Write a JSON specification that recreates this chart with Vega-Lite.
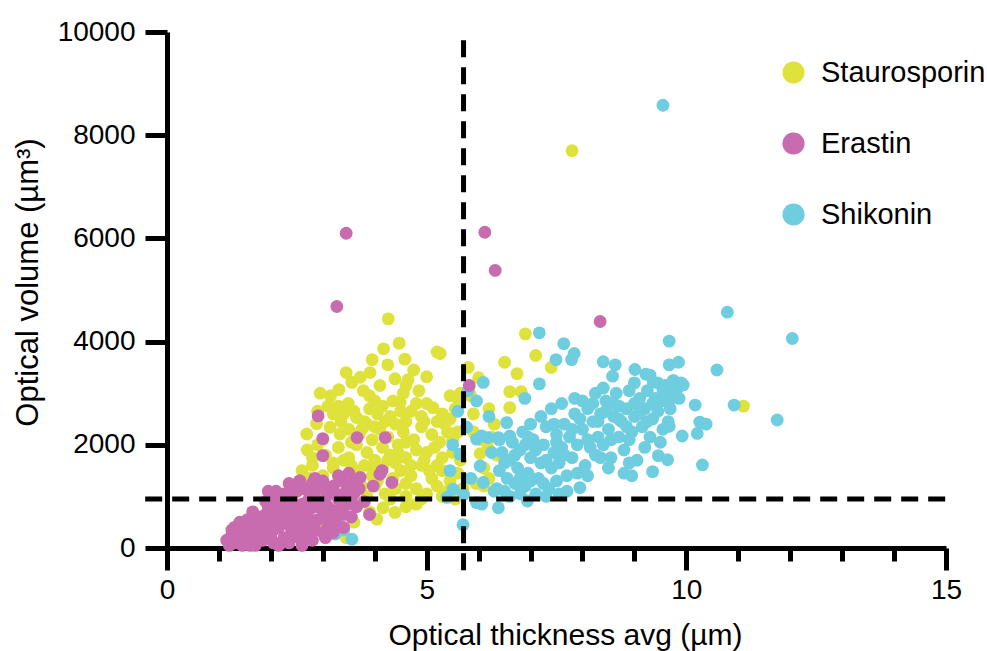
{
  "$schema": "https://vega.github.io/schema/vega-lite/v6.json",
  "width": 779,
  "height": 516,
  "autosize": {"type": "none"},
  "padding": {"left": 167, "top": 32, "right": 41, "bottom": 103},
  "config": {
    "view": {"stroke": null},
    "font": "Liberation Sans",
    "axis": {"grid": false, "domainColor": "black", "domainWidth": 5, "tickColor": "black", "tickWidth": 5, "labelColor": "black", "titleColor": "black", "labelFont": "Liberation Sans", "titleFont": "Liberation Sans", "labelFontSize": 28, "titleFontSize": 30, "titleFontWeight": "normal"},
    "legend": {"labelFont": "Liberation Sans", "labelFontSize": 29, "labelColor": "black", "labelLimit": 400, "symbolSize": 490, "symbolType": "circle", "symbolStrokeWidth": 0, "symbolOpacity": 1, "rowPadding": 41, "labelOffset": 13, "padding": 0}
  },
  "layer": [
    {
      "data": {"values": [
        {"treatment":"Staurosporin","x":4.26,"y":4440},{"treatment":"Staurosporin","x":4.47,"y":3970},{"treatment":"Staurosporin","x":4.17,"y":3860},{"treatment":"Staurosporin","x":4.58,"y":3660},{"treatment":"Staurosporin","x":5.26,"y":3770},{"treatment":"Staurosporin","x":3.91,"y":3400},{"treatment":"Staurosporin","x":3.72,"y":3310},{"treatment":"Staurosporin","x":3.56,"y":3210},{"treatment":"Staurosporin","x":4.39,"y":3280},{"treatment":"Staurosporin","x":4.64,"y":3260},{"treatment":"Staurosporin","x":5.0,"y":3320},{"treatment":"Staurosporin","x":2.95,"y":3000},{"treatment":"Staurosporin","x":3.31,"y":3070},{"treatment":"Staurosporin","x":3.78,"y":3050},{"treatment":"Staurosporin","x":4.1,"y":3150},{"treatment":"Staurosporin","x":4.85,"y":3050},{"treatment":"Staurosporin","x":5.45,"y":2950},{"treatment":"Staurosporin","x":5.6,"y":2900},{"treatment":"Staurosporin","x":4.25,"y":3550},{"treatment":"Staurosporin","x":3.95,"y":3650},{"treatment":"Staurosporin","x":3.45,"y":3400},{"treatment":"Staurosporin","x":4.75,"y":3450},{"treatment":"Staurosporin","x":5.65,"y":3000},{"treatment":"Staurosporin","x":3.15,"y":2950},{"treatment":"Staurosporin","x":4.55,"y":3000},
        {"treatment":"Staurosporin","x":3.49,"y":2800},{"treatment":"Staurosporin","x":4.49,"y":2820},{"treatment":"Staurosporin","x":5.12,"y":2720},{"treatment":"Staurosporin","x":3.2,"y":2600},{"treatment":"Staurosporin","x":3.65,"y":2530},{"treatment":"Staurosporin","x":3.9,"y":2700},{"treatment":"Staurosporin","x":4.05,"y":2600},{"treatment":"Staurosporin","x":4.3,"y":2550},{"treatment":"Staurosporin","x":4.7,"y":2650},{"treatment":"Staurosporin","x":4.9,"y":2550},{"treatment":"Staurosporin","x":5.3,"y":2600},{"treatment":"Staurosporin","x":5.55,"y":2700},{"treatment":"Staurosporin","x":3.1,"y":2750},{"treatment":"Staurosporin","x":5.0,"y":2800},{"treatment":"Staurosporin","x":4.0,"y":2850},{"treatment":"Staurosporin","x":3.35,"y":2450},{"treatment":"Staurosporin","x":3.8,"y":2450},{"treatment":"Staurosporin","x":4.15,"y":2750},{"treatment":"Staurosporin","x":4.6,"y":2450},{"treatment":"Staurosporin","x":5.2,"y":2450},{"treatment":"Staurosporin","x":5.45,"y":2500},{"treatment":"Staurosporin","x":2.9,"y":2650},{"treatment":"Staurosporin","x":4.8,"y":2800},{"treatment":"Staurosporin","x":3.6,"y":2650},{"treatment":"Staurosporin","x":4.35,"y":2850},
        {"treatment":"Staurosporin","x":2.88,"y":2410},{"treatment":"Staurosporin","x":3.14,"y":2340},{"treatment":"Staurosporin","x":3.33,"y":2210},{"treatment":"Staurosporin","x":2.69,"y":2210},{"treatment":"Staurosporin","x":3.5,"y":2300},{"treatment":"Staurosporin","x":3.7,"y":2200},{"treatment":"Staurosporin","x":3.85,"y":2400},{"treatment":"Staurosporin","x":4.1,"y":2300},{"treatment":"Staurosporin","x":4.25,"y":2150},{"treatment":"Staurosporin","x":4.4,"y":2400},{"treatment":"Staurosporin","x":4.55,"y":2250},{"treatment":"Staurosporin","x":4.75,"y":2100},{"treatment":"Staurosporin","x":4.9,"y":2350},{"treatment":"Staurosporin","x":5.1,"y":2200},{"treatment":"Staurosporin","x":5.35,"y":2400},{"treatment":"Staurosporin","x":5.6,"y":2250},{"treatment":"Staurosporin","x":3.95,"y":2100},{"treatment":"Staurosporin","x":4.6,"y":2050},{"treatment":"Staurosporin","x":3.0,"y":2100},{"treatment":"Staurosporin","x":5.25,"y":2050},{"treatment":"Staurosporin","x":5.5,"y":2100},{"treatment":"Staurosporin","x":4.0,"y":2350},{"treatment":"Staurosporin","x":3.55,"y":2050},
        {"treatment":"Staurosporin","x":2.7,"y":1900},{"treatment":"Staurosporin","x":2.9,"y":2000},{"treatment":"Staurosporin","x":3.05,"y":1800},{"treatment":"Staurosporin","x":3.3,"y":1950},{"treatment":"Staurosporin","x":3.5,"y":1750},{"treatment":"Staurosporin","x":3.65,"y":2000},{"treatment":"Staurosporin","x":3.85,"y":1850},{"treatment":"Staurosporin","x":4.0,"y":1700},{"treatment":"Staurosporin","x":4.15,"y":1950},{"treatment":"Staurosporin","x":4.3,"y":1800},{"treatment":"Staurosporin","x":4.45,"y":2000},{"treatment":"Staurosporin","x":4.6,"y":1750},{"treatment":"Staurosporin","x":4.8,"y":1900},{"treatment":"Staurosporin","x":4.95,"y":1700},{"treatment":"Staurosporin","x":5.15,"y":1950},{"treatment":"Staurosporin","x":5.3,"y":1750},{"treatment":"Staurosporin","x":5.5,"y":1850},{"treatment":"Staurosporin","x":5.65,"y":1700},{"treatment":"Staurosporin","x":4.4,"y":1650},{"treatment":"Staurosporin","x":3.4,"y":1700},{"treatment":"Staurosporin","x":2.8,"y":1750},{"treatment":"Staurosporin","x":3.2,"y":1650},{"treatment":"Staurosporin","x":5.0,"y":1850},
        {"treatment":"Staurosporin","x":2.6,"y":1500},{"treatment":"Staurosporin","x":2.8,"y":1600},{"treatment":"Staurosporin","x":3.0,"y":1400},{"treatment":"Staurosporin","x":3.2,"y":1550},{"treatment":"Staurosporin","x":3.45,"y":1350},{"treatment":"Staurosporin","x":3.6,"y":1500},{"treatment":"Staurosporin","x":3.8,"y":1600},{"treatment":"Staurosporin","x":3.95,"y":1400},{"treatment":"Staurosporin","x":4.15,"y":1550},{"treatment":"Staurosporin","x":4.35,"y":1350},{"treatment":"Staurosporin","x":4.5,"y":1500},{"treatment":"Staurosporin","x":4.7,"y":1400},{"treatment":"Staurosporin","x":4.9,"y":1600},{"treatment":"Staurosporin","x":5.1,"y":1350},{"treatment":"Staurosporin","x":5.3,"y":1500},{"treatment":"Staurosporin","x":5.45,"y":1300},{"treatment":"Staurosporin","x":5.6,"y":1450},{"treatment":"Staurosporin","x":4.05,"y":1300},{"treatment":"Staurosporin","x":3.7,"y":1250},{"treatment":"Staurosporin","x":3.3,"y":1300},{"treatment":"Staurosporin","x":4.6,"y":1250},{"treatment":"Staurosporin","x":5.2,"y":1600},{"treatment":"Staurosporin","x":2.75,"y":1350},
        {"treatment":"Staurosporin","x":2.5,"y":1100},{"treatment":"Staurosporin","x":2.7,"y":1200},{"treatment":"Staurosporin","x":2.95,"y":1000},{"treatment":"Staurosporin","x":3.2,"y":1150},{"treatment":"Staurosporin","x":3.4,"y":950},{"treatment":"Staurosporin","x":3.6,"y":1100},{"treatment":"Staurosporin","x":3.85,"y":1000},{"treatment":"Staurosporin","x":4.0,"y":1200},{"treatment":"Staurosporin","x":4.2,"y":1050},{"treatment":"Staurosporin","x":4.4,"y":1150},{"treatment":"Staurosporin","x":4.6,"y":1000},{"treatment":"Staurosporin","x":4.8,"y":1150},{"treatment":"Staurosporin","x":5.0,"y":1050},{"treatment":"Staurosporin","x":5.2,"y":1200},{"treatment":"Staurosporin","x":5.4,"y":1100},{"treatment":"Staurosporin","x":5.55,"y":950},{"treatment":"Staurosporin","x":5.7,"y":1150},{"treatment":"Staurosporin","x":4.3,"y":950},{"treatment":"Staurosporin","x":4.9,"y":950},{"treatment":"Staurosporin","x":3.75,"y":1200},{"treatment":"Staurosporin","x":5.3,"y":1000},
        {"treatment":"Staurosporin","x":3.4,"y":2600},{"treatment":"Staurosporin","x":3.75,"y":2300},{"treatment":"Staurosporin","x":4.2,"y":2450},{"treatment":"Staurosporin","x":4.5,"y":2650},{"treatment":"Staurosporin","x":4.95,"y":2450},{"treatment":"Staurosporin","x":5.4,"y":2250},{"treatment":"Staurosporin","x":3.95,"y":1550},{"treatment":"Staurosporin","x":4.25,"y":1700},{"treatment":"Staurosporin","x":4.7,"y":1600},{"treatment":"Staurosporin","x":5.05,"y":1500},{"treatment":"Staurosporin","x":3.55,"y":1600},{"treatment":"Staurosporin","x":4.45,"y":1850},{"treatment":"Staurosporin","x":3.9,"y":2950},{"treatment":"Staurosporin","x":4.6,"y":3150},{"treatment":"Staurosporin","x":3.3,"y":2750},
        {"treatment":"Staurosporin","x":3.9,"y":700},{"treatment":"Staurosporin","x":4.04,"y":560},{"treatment":"Staurosporin","x":4.39,"y":690},{"treatment":"Staurosporin","x":4.16,"y":780},{"treatment":"Staurosporin","x":3.6,"y":500},{"treatment":"Staurosporin","x":4.6,"y":800},{"treatment":"Staurosporin","x":3.3,"y":650},{"treatment":"Staurosporin","x":2.9,"y":400},{"treatment":"Staurosporin","x":3.1,"y":250},{"treatment":"Staurosporin","x":3.45,"y":200},{"treatment":"Staurosporin","x":4.8,"y":850},
        {"treatment":"Staurosporin","x":5.9,"y":2600},{"treatment":"Staurosporin","x":6.03,"y":1830},{"treatment":"Staurosporin","x":6.18,"y":1940},{"treatment":"Staurosporin","x":6.1,"y":1550},{"treatment":"Staurosporin","x":5.95,"y":1250},{"treatment":"Staurosporin","x":6.1,"y":1200},{"treatment":"Staurosporin","x":6.25,"y":2150},{"treatment":"Staurosporin","x":5.85,"y":2950},{"treatment":"Staurosporin","x":6.0,"y":3300},{"treatment":"Staurosporin","x":5.8,"y":3500},{"treatment":"Staurosporin","x":6.2,"y":2700},{"treatment":"Staurosporin","x":6.3,"y":2400},{"treatment":"Staurosporin","x":6.05,"y":2100},{"treatment":"Staurosporin","x":5.9,"y":2250},{"treatment":"Staurosporin","x":6.35,"y":1800},{"treatment":"Staurosporin","x":6.2,"y":1350},
        {"treatment":"Staurosporin","x":7.8,"y":7700},{"treatment":"Staurosporin","x":11.1,"y":2750},{"treatment":"Staurosporin","x":6.9,"y":4150},{"treatment":"Staurosporin","x":7.1,"y":3730},{"treatment":"Staurosporin","x":6.74,"y":3380},{"treatment":"Staurosporin","x":6.6,"y":3030},{"treatment":"Staurosporin","x":6.82,"y":3030},{"treatment":"Staurosporin","x":6.6,"y":2720},{"treatment":"Staurosporin","x":7.4,"y":3500},{"treatment":"Staurosporin","x":6.5,"y":3600},{"treatment":"Staurosporin","x":5.2,"y":3800},

        {"treatment":"Shikonin","x":6.35,"y":1150},{"treatment":"Shikonin","x":6.4,"y":1500},{"treatment":"Shikonin","x":6.45,"y":1850},{"treatment":"Shikonin","x":6.5,"y":1100},{"treatment":"Shikonin","x":6.55,"y":1350},{"treatment":"Shikonin","x":6.6,"y":1700},{"treatment":"Shikonin","x":6.65,"y":2050},{"treatment":"Shikonin","x":6.7,"y":1250},{"treatment":"Shikonin","x":6.4,"y":2100},{"treatment":"Shikonin","x":6.6,"y":1000},
        {"treatment":"Shikonin","x":6.75,"y":1550},{"treatment":"Shikonin","x":6.8,"y":1900},{"treatment":"Shikonin","x":6.85,"y":2250},{"treatment":"Shikonin","x":6.9,"y":1200},{"treatment":"Shikonin","x":6.95,"y":1450},{"treatment":"Shikonin","x":7.0,"y":1750},{"treatment":"Shikonin","x":7.05,"y":2100},{"treatment":"Shikonin","x":7.1,"y":1050},{"treatment":"Shikonin","x":6.8,"y":1050},{"treatment":"Shikonin","x":7.0,"y":2400},{"treatment":"Shikonin","x":6.9,"y":2000},
        {"treatment":"Shikonin","x":7.15,"y":1350},{"treatment":"Shikonin","x":7.2,"y":1650},{"treatment":"Shikonin","x":7.25,"y":2000},{"treatment":"Shikonin","x":7.3,"y":2350},{"treatment":"Shikonin","x":7.35,"y":1150},{"treatment":"Shikonin","x":7.4,"y":1550},{"treatment":"Shikonin","x":7.45,"y":1850},{"treatment":"Shikonin","x":7.5,"y":2200},{"treatment":"Shikonin","x":7.2,"y":2550},{"treatment":"Shikonin","x":7.4,"y":2700},{"treatment":"Shikonin","x":7.3,"y":1000},{"treatment":"Shikonin","x":7.5,"y":1300},
        {"treatment":"Shikonin","x":7.55,"y":1650},{"treatment":"Shikonin","x":7.6,"y":1950},{"treatment":"Shikonin","x":7.65,"y":2400},{"treatment":"Shikonin","x":7.7,"y":1400},{"treatment":"Shikonin","x":7.75,"y":2150},{"treatment":"Shikonin","x":7.8,"y":1750},{"treatment":"Shikonin","x":7.85,"y":2600},{"treatment":"Shikonin","x":7.9,"y":2000},{"treatment":"Shikonin","x":7.6,"y":2800},{"treatment":"Shikonin","x":7.95,"y":1170},{"treatment":"Shikonin","x":7.7,"y":1100},{"treatment":"Shikonin","x":7.85,"y":2900},{"treatment":"Shikonin","x":7.55,"y":1050},
        {"treatment":"Shikonin","x":8.0,"y":2300},{"treatment":"Shikonin","x":8.05,"y":1600},{"treatment":"Shikonin","x":8.1,"y":2700},{"treatment":"Shikonin","x":8.15,"y":1950},{"treatment":"Shikonin","x":8.2,"y":2450},{"treatment":"Shikonin","x":8.25,"y":3000},{"treatment":"Shikonin","x":8.3,"y":2150},{"treatment":"Shikonin","x":8.1,"y":1400},{"treatment":"Shikonin","x":8.25,"y":1800},{"treatment":"Shikonin","x":8.0,"y":2850},
        {"treatment":"Shikonin","x":8.35,"y":2600},{"treatment":"Shikonin","x":8.4,"y":2000},{"treatment":"Shikonin","x":8.45,"y":2850},{"treatment":"Shikonin","x":8.5,"y":2300},{"treatment":"Shikonin","x":8.55,"y":1750},{"treatment":"Shikonin","x":8.6,"y":2550},{"treatment":"Shikonin","x":8.65,"y":3000},{"treatment":"Shikonin","x":8.7,"y":2150},{"treatment":"Shikonin","x":8.5,"y":1550},{"treatment":"Shikonin","x":8.4,"y":3100},{"treatment":"Shikonin","x":8.7,"y":2750},
        {"treatment":"Shikonin","x":8.75,"y":2450},{"treatment":"Shikonin","x":8.8,"y":1900},{"treatment":"Shikonin","x":8.85,"y":2700},{"treatment":"Shikonin","x":8.9,"y":3050},{"treatment":"Shikonin","x":8.95,"y":2250},{"treatment":"Shikonin","x":9.0,"y":2550},{"treatment":"Shikonin","x":9.05,"y":1700},{"treatment":"Shikonin","x":9.1,"y":2900},{"treatment":"Shikonin","x":8.8,"y":1450},{"treatment":"Shikonin","x":8.9,"y":2100},{"treatment":"Shikonin","x":9.0,"y":3200},
        {"treatment":"Shikonin","x":9.15,"y":2350},{"treatment":"Shikonin","x":9.2,"y":2700},{"treatment":"Shikonin","x":9.25,"y":3050},{"treatment":"Shikonin","x":9.3,"y":2150},{"treatment":"Shikonin","x":9.35,"y":2500},{"treatment":"Shikonin","x":9.4,"y":2900},{"treatment":"Shikonin","x":9.45,"y":3200},{"treatment":"Shikonin","x":9.5,"y":2050},{"treatment":"Shikonin","x":9.2,"y":1950},{"treatment":"Shikonin","x":9.3,"y":3350},{"treatment":"Shikonin","x":9.45,"y":2650},
        {"treatment":"Shikonin","x":9.55,"y":2850},{"treatment":"Shikonin","x":9.6,"y":3150},{"treatment":"Shikonin","x":9.7,"y":2900},{"treatment":"Shikonin","x":9.75,"y":3250},{"treatment":"Shikonin","x":9.8,"y":3050},{"treatment":"Shikonin","x":9.65,"y":2450},{"treatment":"Shikonin","x":9.9,"y":3200},{"treatment":"Shikonin","x":9.55,"y":2300},
        {"treatment":"Shikonin","x":6.5,"y":1650},{"treatment":"Shikonin","x":6.7,"y":1800},{"treatment":"Shikonin","x":6.95,"y":2150},{"treatment":"Shikonin","x":7.1,"y":1900},{"treatment":"Shikonin","x":7.3,"y":1700},{"treatment":"Shikonin","x":7.45,"y":2400},{"treatment":"Shikonin","x":7.65,"y":1800},{"treatment":"Shikonin","x":7.8,"y":2300},{"treatment":"Shikonin","x":7.95,"y":2500},{"treatment":"Shikonin","x":8.1,"y":2100},{"treatment":"Shikonin","x":8.3,"y":2450},{"treatment":"Shikonin","x":8.45,"y":2650},{"treatment":"Shikonin","x":8.55,"y":2100},{"treatment":"Shikonin","x":8.7,"y":2500},{"treatment":"Shikonin","x":8.85,"y":2350},{"treatment":"Shikonin","x":9.0,"y":2800},{"treatment":"Shikonin","x":9.1,"y":2600},{"treatment":"Shikonin","x":9.25,"y":2450},{"treatment":"Shikonin","x":9.35,"y":2800},{"treatment":"Shikonin","x":9.55,"y":3050},{"treatment":"Shikonin","x":9.7,"y":3100},{"treatment":"Shikonin","x":8.6,"y":2800},{"treatment":"Shikonin","x":8.2,"y":2800},{"treatment":"Shikonin","x":7.5,"y":2050},{"treatment":"Shikonin","x":7.0,"y":1300},{"treatment":"Shikonin","x":6.8,"y":1350},{"treatment":"Shikonin","x":7.25,"y":1250},{"treatment":"Shikonin","x":7.9,"y":1450},{"treatment":"Shikonin","x":8.35,"y":1750},{"treatment":"Shikonin","x":8.9,"y":1650},
        {"treatment":"Shikonin","x":5.39,"y":980},{"treatment":"Shikonin","x":5.51,"y":1140},{"treatment":"Shikonin","x":5.64,"y":1820},{"treatment":"Shikonin","x":5.71,"y":1040},{"treatment":"Shikonin","x":5.77,"y":2340},{"treatment":"Shikonin","x":5.96,"y":2850},{"treatment":"Shikonin","x":5.96,"y":2110},{"treatment":"Shikonin","x":6.18,"y":2140},{"treatment":"Shikonin","x":6.03,"y":1590},{"treatment":"Shikonin","x":6.09,"y":1270},{"treatment":"Shikonin","x":5.96,"y":880},{"treatment":"Shikonin","x":6.06,"y":850},{"treatment":"Shikonin","x":6.38,"y":780},{"treatment":"Shikonin","x":5.7,"y":450},{"treatment":"Shikonin","x":6.09,"y":3210},{"treatment":"Shikonin","x":6.06,"y":2170},{"treatment":"Shikonin","x":6.54,"y":2430},{"treatment":"Shikonin","x":6.6,"y":2170},{"treatment":"Shikonin","x":6.38,"y":2140},{"treatment":"Shikonin","x":5.45,"y":1500},{"treatment":"Shikonin","x":5.85,"y":1350},{"treatment":"Shikonin","x":6.25,"y":1850},{"treatment":"Shikonin","x":6.2,"y":2550},{"treatment":"Shikonin","x":5.6,"y":2650},{"treatment":"Shikonin","x":6.3,"y":1100},{"treatment":"Shikonin","x":5.8,"y":3050},{"treatment":"Shikonin","x":5.5,"y":2000},
        {"treatment":"Shikonin","x":3.56,"y":170},{"treatment":"Shikonin","x":3.24,"y":270},{"treatment":"Shikonin","x":3.4,"y":350},
        {"treatment":"Shikonin","x":9.55,"y":8580},{"treatment":"Shikonin","x":10.79,"y":4570},{"treatment":"Shikonin","x":12.04,"y":4060},{"treatment":"Shikonin","x":11.75,"y":2480},{"treatment":"Shikonin","x":10.92,"y":2770},{"treatment":"Shikonin","x":10.59,"y":3450},{"treatment":"Shikonin","x":10.31,"y":1610},{"treatment":"Shikonin","x":10.17,"y":2770},{"treatment":"Shikonin","x":7.17,"y":4170},{"treatment":"Shikonin","x":7.64,"y":3960},{"treatment":"Shikonin","x":7.84,"y":3770},{"treatment":"Shikonin","x":7.79,"y":3650},{"treatment":"Shikonin","x":7.49,"y":3650},{"treatment":"Shikonin","x":8.4,"y":3610},{"treatment":"Shikonin","x":8.63,"y":3550},{"treatment":"Shikonin","x":8.58,"y":3330},{"treatment":"Shikonin","x":9.01,"y":3460},{"treatment":"Shikonin","x":9.22,"y":3370},{"treatment":"Shikonin","x":9.36,"y":3220},{"treatment":"Shikonin","x":9.67,"y":4010},{"treatment":"Shikonin","x":9.67,"y":3550},{"treatment":"Shikonin","x":9.85,"y":3600},{"treatment":"Shikonin","x":7.17,"y":3180},{"treatment":"Shikonin","x":6.89,"y":2900},{"treatment":"Shikonin","x":9.85,"y":3120},{"treatment":"Shikonin","x":9.94,"y":3160},{"treatment":"Shikonin","x":9.86,"y":2900},{"treatment":"Shikonin","x":10.26,"y":2440},{"treatment":"Shikonin","x":10.38,"y":2400},{"treatment":"Shikonin","x":10.21,"y":2220},{"treatment":"Shikonin","x":9.92,"y":2170},{"treatment":"Shikonin","x":9.69,"y":2700},{"treatment":"Shikonin","x":9.67,"y":2360},{"treatment":"Shikonin","x":9.64,"y":1710},{"treatment":"Shikonin","x":9.46,"y":1790},{"treatment":"Shikonin","x":9.35,"y":1480},{"treatment":"Shikonin","x":8.95,"y":1400},{"treatment":"Shikonin","x":6.94,"y":910},

        {"treatment":"Erastin","x":1.15,"y":150},{"treatment":"Erastin","x":1.2,"y":50},{"treatment":"Erastin","x":1.25,"y":250},{"treatment":"Erastin","x":1.3,"y":100},{"treatment":"Erastin","x":1.35,"y":350},{"treatment":"Erastin","x":1.4,"y":200},{"treatment":"Erastin","x":1.45,"y":50},{"treatment":"Erastin","x":1.5,"y":300},{"treatment":"Erastin","x":1.3,"y":400},
        {"treatment":"Erastin","x":1.55,"y":150},{"treatment":"Erastin","x":1.6,"y":450},{"treatment":"Erastin","x":1.65,"y":250},{"treatment":"Erastin","x":1.7,"y":50},{"treatment":"Erastin","x":1.75,"y":550},{"treatment":"Erastin","x":1.8,"y":350},{"treatment":"Erastin","x":1.85,"y":150},{"treatment":"Erastin","x":1.9,"y":650},{"treatment":"Erastin","x":1.55,"y":550},{"treatment":"Erastin","x":1.65,"y":700},{"treatment":"Erastin","x":1.75,"y":200},{"treatment":"Erastin","x":1.85,"y":450},{"treatment":"Erastin","x":1.9,"y":900},
        {"treatment":"Erastin","x":1.95,"y":300},{"treatment":"Erastin","x":2.0,"y":550},{"treatment":"Erastin","x":2.05,"y":100},{"treatment":"Erastin","x":2.1,"y":750},{"treatment":"Erastin","x":2.15,"y":400},{"treatment":"Erastin","x":2.2,"y":950},{"treatment":"Erastin","x":2.25,"y":200},{"treatment":"Erastin","x":2.3,"y":650},{"treatment":"Erastin","x":2.0,"y":1000},{"treatment":"Erastin","x":2.1,"y":1100},{"treatment":"Erastin","x":2.2,"y":550},{"treatment":"Erastin","x":2.3,"y":850},{"treatment":"Erastin","x":1.95,"y":800},{"treatment":"Erastin","x":2.05,"y":350},{"treatment":"Erastin","x":2.15,"y":50},{"treatment":"Erastin","x":2.25,"y":1050},
        {"treatment":"Erastin","x":2.35,"y":450},{"treatment":"Erastin","x":2.4,"y":1000},{"treatment":"Erastin","x":2.45,"y":250},{"treatment":"Erastin","x":2.5,"y":750},{"treatment":"Erastin","x":2.55,"y":550},{"treatment":"Erastin","x":2.6,"y":1150},{"treatment":"Erastin","x":2.65,"y":350},{"treatment":"Erastin","x":2.7,"y":900},{"treatment":"Erastin","x":2.35,"y":100},{"treatment":"Erastin","x":2.45,"y":850},{"treatment":"Erastin","x":2.55,"y":1300},{"treatment":"Erastin","x":2.6,"y":50},{"treatment":"Erastin","x":2.65,"y":650},{"treatment":"Erastin","x":2.4,"y":600},{"treatment":"Erastin","x":2.5,"y":1100},{"treatment":"Erastin","x":2.7,"y":200},
        {"treatment":"Erastin","x":2.75,"y":550},{"treatment":"Erastin","x":2.8,"y":1050},{"treatment":"Erastin","x":2.85,"y":350},{"treatment":"Erastin","x":2.9,"y":800},{"treatment":"Erastin","x":2.95,"y":1250},{"treatment":"Erastin","x":3.0,"y":600},{"treatment":"Erastin","x":3.05,"y":950},{"treatment":"Erastin","x":3.1,"y":400},{"treatment":"Erastin","x":2.8,"y":150},{"treatment":"Erastin","x":2.9,"y":1150},{"treatment":"Erastin","x":3.0,"y":1300},{"treatment":"Erastin","x":2.75,"y":750},{"treatment":"Erastin","x":3.1,"y":1100},{"treatment":"Erastin","x":2.85,"y":1350},
        {"treatment":"Erastin","x":3.15,"y":750},{"treatment":"Erastin","x":3.2,"y":1200},{"treatment":"Erastin","x":3.25,"y":500},{"treatment":"Erastin","x":3.3,"y":950},{"treatment":"Erastin","x":3.35,"y":1300},{"treatment":"Erastin","x":3.4,"y":650},{"treatment":"Erastin","x":3.45,"y":1100},{"treatment":"Erastin","x":3.5,"y":850},{"treatment":"Erastin","x":3.2,"y":300},{"treatment":"Erastin","x":3.3,"y":1400},{"treatment":"Erastin","x":3.4,"y":400},
        {"treatment":"Erastin","x":3.55,"y":600},{"treatment":"Erastin","x":3.6,"y":1050},{"treatment":"Erastin","x":3.65,"y":800},{"treatment":"Erastin","x":3.72,"y":1370},{"treatment":"Erastin","x":3.8,"y":900},{"treatment":"Erastin","x":3.9,"y":650},{"treatment":"Erastin","x":3.97,"y":1200},{"treatment":"Erastin","x":3.7,"y":1150},{"treatment":"Erastin","x":4.1,"y":1430},{"treatment":"Erastin","x":4.33,"y":1270},
        {"treatment":"Erastin","x":1.4,"y":500},{"treatment":"Erastin","x":1.6,"y":50},{"treatment":"Erastin","x":2.0,"y":200},{"treatment":"Erastin","x":2.3,"y":1000},{"treatment":"Erastin","x":2.9,"y":550},{"treatment":"Erastin","x":3.05,"y":200},{"treatment":"Erastin","x":3.25,"y":1050},{"treatment":"Erastin","x":3.55,"y":950},{"treatment":"Erastin","x":1.95,"y":1100},{"treatment":"Erastin","x":2.5,"y":400},{"treatment":"Erastin","x":2.2,"y":750},{"treatment":"Erastin","x":2.75,"y":1000},{"treatment":"Erastin","x":3.15,"y":550},{"treatment":"Erastin","x":3.6,"y":1300},{"treatment":"Erastin","x":2.4,"y":1150},
        {"treatment":"Erastin","x":1.5,"y":450},{"treatment":"Erastin","x":1.7,"y":350},{"treatment":"Erastin","x":1.8,"y":600},{"treatment":"Erastin","x":2.05,"y":650},{"treatment":"Erastin","x":2.35,"y":800},{"treatment":"Erastin","x":2.15,"y":900},{"treatment":"Erastin","x":2.6,"y":850},{"treatment":"Erastin","x":2.85,"y":950},{"treatment":"Erastin","x":3.1,"y":800},{"treatment":"Erastin","x":3.35,"y":800},{"treatment":"Erastin","x":1.45,"y":150},{"treatment":"Erastin","x":1.25,"y":350},{"treatment":"Erastin","x":2.4,"y":350},{"treatment":"Erastin","x":2.7,"y":450},{"treatment":"Erastin","x":3.0,"y":300},{"treatment":"Erastin","x":2.2,"y":100},{"treatment":"Erastin","x":1.95,"y":500},{"treatment":"Erastin","x":2.55,"y":200},{"treatment":"Erastin","x":3.3,"y":650},{"treatment":"Erastin","x":3.5,"y":1200},
        {"treatment":"Erastin","x":3.45,"y":6100},{"treatment":"Erastin","x":3.27,"y":4680},{"treatment":"Erastin","x":6.12,"y":6120},{"treatment":"Erastin","x":6.32,"y":5380},{"treatment":"Erastin","x":8.34,"y":4390},{"treatment":"Erastin","x":5.82,"y":3150},{"treatment":"Erastin","x":2.91,"y":2560},{"treatment":"Erastin","x":3.0,"y":2120},{"treatment":"Erastin","x":3.66,"y":2140},{"treatment":"Erastin","x":4.2,"y":2140},{"treatment":"Erastin","x":4.14,"y":1500},{"treatment":"Erastin","x":3.0,"y":1790},{"treatment":"Erastin","x":2.56,"y":1300},{"treatment":"Erastin","x":2.35,"y":1250},{"treatment":"Erastin","x":2.8,"y":1250},{"treatment":"Erastin","x":3.5,"y":1450}
      ]},
      "mark": {"type": "circle", "size": 165, "opacity": 1, "strokeWidth": 0},
      "encoding": {
        "x": {"field": "x", "type": "quantitative", "scale": {"domain": [0, 15], "nice": false, "zero": false},
          "axis": {"title": "Optical thickness avg (µm)", "values": [0,1,2,3,4,5,6,7,8,9,10,11,12,13,14,15], "labelExpr": "datum.value % 5 === 0 ? datum.label : ''", "tickSize": {"condition": {"test": "datum.value % 5 === 0", "value": 22}, "value": 13}, "labelPadding": 6, "labelFlush": false, "labelOverlap": false, "titleX": 398, "titleY": 96, "titleBaseline": "alphabetic", "titleAlign": "center"}},
        "y": {"field": "y", "type": "quantitative", "scale": {"domain": [0, 10000], "nice": false},
          "axis": {"title": "Optical volume (µm³)", "values": [0,2000,4000,6000,8000,10000], "format": "d", "tickSize": 22, "labelPadding": 10, "labelFlush": false, "titleFontSize": 31, "titleX": -130, "titleY": 250, "titleAngle": 270, "titleBaseline": "alphabetic", "titleAlign": "center"}},
        "color": {"field": "treatment", "type": "nominal",
          "scale": {"domain": ["Staurosporin", "Erastin", "Shikonin"], "range": ["#DEE23B", "#C86BAF", "#6ECDDF"]},
          "legend": {"title": null, "orient": "none", "legendX": 612, "legendY": 26}}
      }
    },
    {
      "data": {"values": [{"x": 5.71, "ystart": -430, "yend": 10000}]},
      "mark": {"type": "rule", "color": "black", "strokeWidth": 5, "strokeDash": [17, 10]},
      "encoding": {"x": {"field": "x", "type": "quantitative"}, "y": {"field": "ystart", "type": "quantitative"}, "y2": {"field": "yend"}}
    },
    {
      "data": {"values": [{"xstart": -0.42, "xend": 15, "y": 950}]},
      "mark": {"type": "rule", "color": "black", "strokeWidth": 5, "strokeDash": [17, 10]},
      "encoding": {"x": {"field": "xstart", "type": "quantitative"}, "x2": {"field": "xend"}, "y": {"field": "y", "type": "quantitative"}}
    }
  ]
}
